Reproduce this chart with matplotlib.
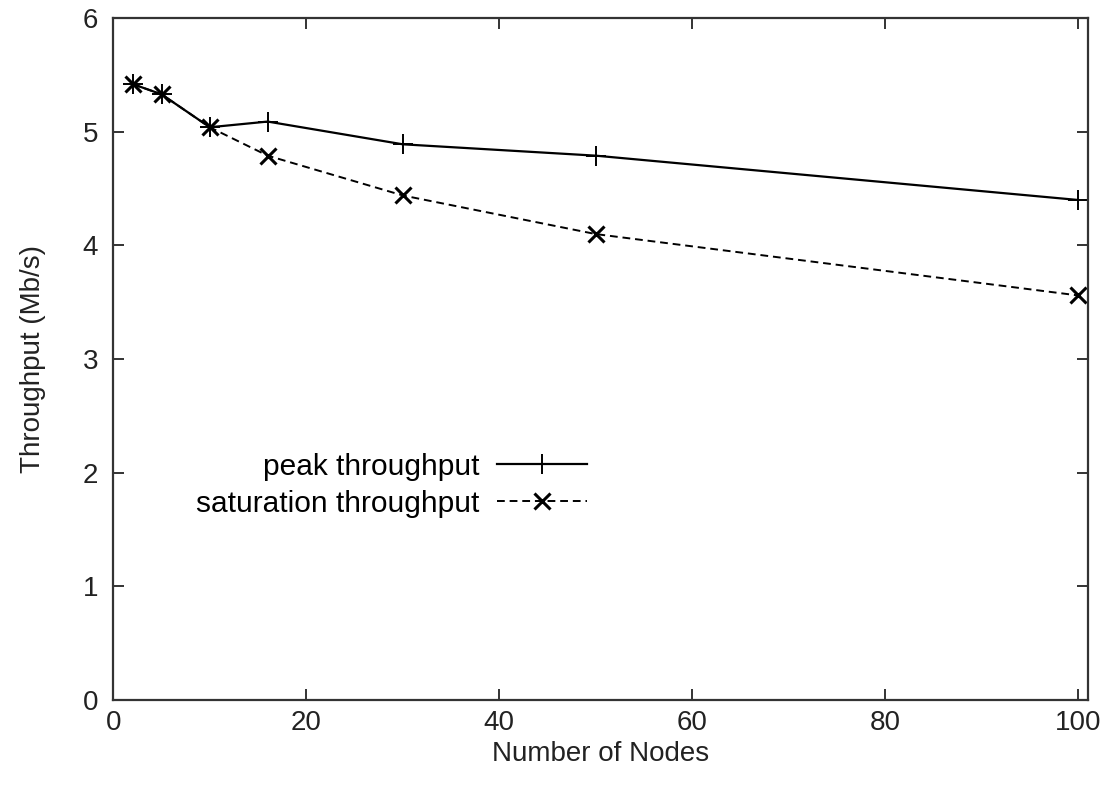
import matplotlib
matplotlib.use("Agg")
import matplotlib.pyplot as plt

# number of nodes vs throughput
nodes = [2, 5, 10, 16, 30, 50, 100]
peak = [5.42, 5.33, 5.04, 5.09, 4.89, 4.79, 4.40]
saturation = [5.42, 5.33, 5.04, 4.79, 4.44, 4.10, 3.56]

plt.rcParams["font.family"] = ["Liberation Sans", "DejaVu Sans"]
plt.rcParams["font.size"] = 20

fig = plt.figure(figsize=(11.11, 7.9), dpi=100)
ax = fig.add_axes([0.102, 0.114, 0.877, 0.863])

ax.plot(nodes, peak, color="black", lw=1.6, marker="+", ms=14, mew=1.4,
        label="peak throughput")
ax.plot(nodes, saturation, color="black", lw=1.4, ls=(0, (4, 2.5)),
        marker="x", ms=11, mew=2.2, label="saturation throughput")

ax.set_xlim(0, 101)
ax.set_ylim(0, 6)
ax.set_xticks([0, 20, 40, 60, 80, 100])
ax.set_yticks([0, 1, 2, 3, 4, 5, 6])

ax.set_xlabel("Number of Nodes", color="#222222", labelpad=4)
ax.set_ylabel("Throughput (Mb/s)", color="#222222", labelpad=26)

for s in ax.spines.values():
    s.set_color("#333333")
    s.set_linewidth(1.6)
ax.tick_params(direction="in", length=8, width=1.4, color="#333333",
               top=True, right=True, labelcolor="#222222")
ax.tick_params(axis="x", pad=7)
ax.tick_params(axis="y", pad=11)

leg = ax.legend(loc="center right", bbox_to_anchor=(0.486, 0.315),
                markerfirst=False, frameon=False, handlelength=3.0,
                handletextpad=0.6, labelspacing=0.3, fontsize=21.5,
                borderpad=0, borderaxespad=0)

fig.savefig("out.png", dpi=100)
